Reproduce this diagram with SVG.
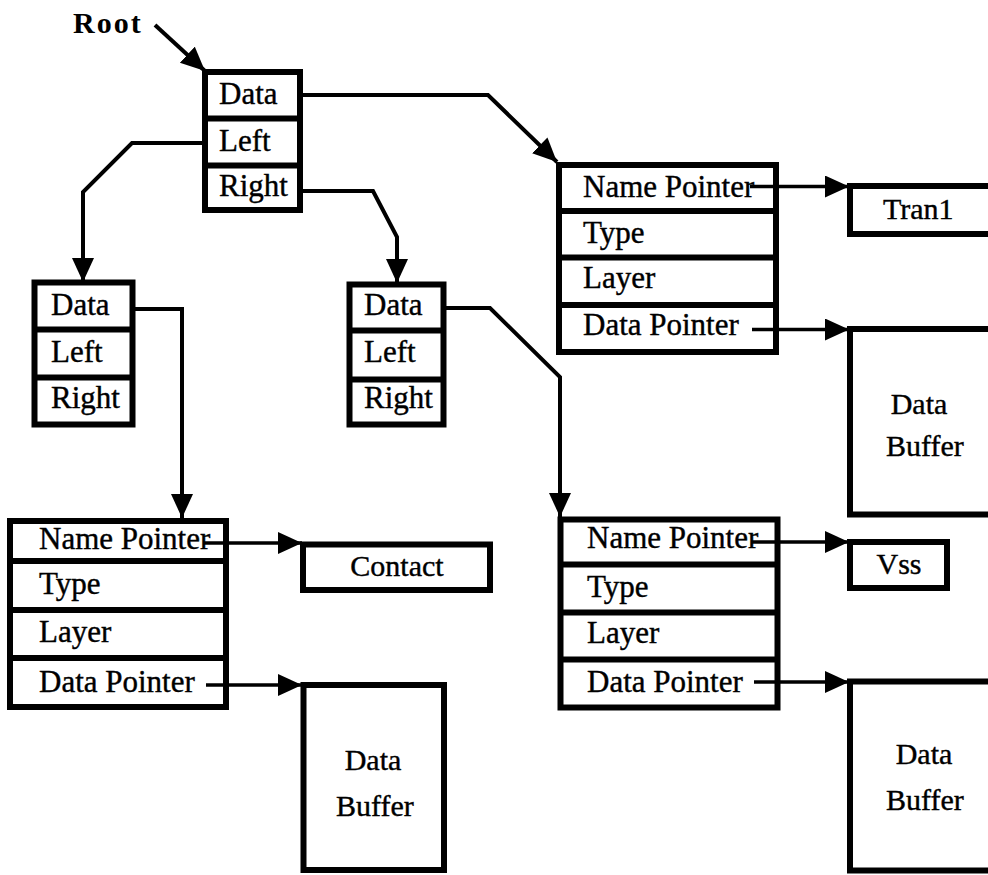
<svg xmlns="http://www.w3.org/2000/svg" width="988" height="875" viewBox="0 0 988 875">
  <style>
    .box { fill: #fff; stroke: #000; stroke-width: 6; }
    .sep { stroke: #000; stroke-width: 6; }
    .t { font-family: "Liberation Serif", "Times New Roman", serif; font-size: 31px; fill: #000; stroke: #000; stroke-width: 0.4; }
    .b { font-size: 30px; }
    .c { text-anchor: middle; }
    .root { font-family: "Liberation Serif", "Times New Roman", serif; font-size: 30px; font-weight: bold; letter-spacing: 2px; fill: #000; }
    .wire { fill: none; stroke: #000; stroke-width: 4; stroke-linejoin: miter; }
    .ptr { fill: none; stroke: #000; stroke-width: 3.5; }
  </style>
  <defs>
    <marker id="head" markerUnits="userSpaceOnUse" markerWidth="26" markerHeight="24" refX="24" refY="11" orient="auto">
      <path d="M0,0 L24,11 L0,22 Z" fill="#000"/>
    </marker>
  </defs>

  <rect width="988" height="875" fill="#fff"/>

  <!-- tree nodes -->
  <g id="root">
    <rect class="box" x="205" y="72" width="95" height="138"/>
    <line class="sep" x1="205" y1="118.5" x2="300" y2="118.5"/>
    <line class="sep" x1="205" y1="165.5" x2="300" y2="165.5"/>
    <text class="t" x="219" y="104">Data</text>
    <text class="t" x="219" y="151">Left</text>
    <text class="t" x="219" y="196">Right</text>
  </g>
  <g id="left-child">
    <rect class="box" x="34.5" y="282.5" width="98" height="142"/>
    <line class="sep" x1="34.5" y1="329.5" x2="132.5" y2="329.5"/>
    <line class="sep" x1="34.5" y1="377.5" x2="132.5" y2="377.5"/>
    <text class="t" x="51" y="315">Data</text>
    <text class="t" x="51" y="362">Left</text>
    <text class="t" x="51" y="408">Right</text>
  </g>
  <g id="right-child">
    <rect class="box" x="349.5" y="284.5" width="94" height="140"/>
    <line class="sep" x1="349.5" y1="330.5" x2="443.5" y2="330.5"/>
    <line class="sep" x1="349.5" y1="379.5" x2="443.5" y2="379.5"/>
    <text class="t" x="364" y="315">Data</text>
    <text class="t" x="364" y="362">Left</text>
    <text class="t" x="364" y="408">Right</text>
  </g>

  <!-- records -->
  <g id="rec-tran1">
    <rect class="box" x="559" y="165" width="217" height="187"/>
    <line class="sep" x1="559" y1="211" x2="776" y2="211"/>
    <line class="sep" x1="559" y1="257.5" x2="776" y2="257.5"/>
    <line class="sep" x1="559" y1="305" x2="776" y2="305"/>
    <text class="t" x="583" y="197">Name Pointer</text>
    <text class="t" x="583" y="243">Type</text>
    <text class="t" x="583" y="288">Layer</text>
    <text class="t" x="583" y="335">Data Pointer</text>
  </g>
  <g id="rec-contact">
    <rect class="box" x="10" y="521" width="216" height="186"/>
    <line class="sep" x1="10" y1="561" x2="226" y2="561"/>
    <line class="sep" x1="10" y1="610" x2="226" y2="610"/>
    <line class="sep" x1="10" y1="658" x2="226" y2="658"/>
    <text class="t" x="39" y="549">Name Pointer</text>
    <text class="t" x="39" y="594">Type</text>
    <text class="t" x="39" y="642">Layer</text>
    <text class="t" x="39" y="692">Data Pointer</text>
  </g>
  <g id="rec-vss">
    <rect class="box" x="560.5" y="519.5" width="217" height="188"/>
    <line class="sep" x1="560.5" y1="564.5" x2="777.5" y2="564.5"/>
    <line class="sep" x1="560.5" y1="612.5" x2="777.5" y2="612.5"/>
    <line class="sep" x1="560.5" y1="659.5" x2="777.5" y2="659.5"/>
    <text class="t" x="587" y="548">Name Pointer</text>
    <text class="t" x="587" y="597">Type</text>
    <text class="t" x="587" y="643">Layer</text>
    <text class="t" x="587" y="692">Data Pointer</text>
  </g>

  <!-- names -->
  <g id="name-tran1">
    <rect class="box" x="850" y="186" width="160" height="48"/>
    <text class="t b" x="883" y="219">Tran1</text>
  </g>
  <g id="name-contact">
    <rect class="box" x="303" y="544.5" width="187" height="45.5"/>
    <text class="t b c" x="397" y="576">Contact</text>
  </g>
  <g id="name-vss">
    <rect class="box" x="850" y="542" width="97" height="46"/>
    <text class="t b c" x="899" y="574">Vss</text>
  </g>

  <!-- data buffers -->
  <g id="buf-tran1">
    <rect class="box" x="850" y="329" width="160" height="185.5"/>
    <text class="t b c" x="919" y="414">Data</text>
    <text class="t b c" x="925" y="456">Buffer</text>
  </g>
  <g id="buf-contact">
    <rect class="box" x="303.5" y="685" width="140.5" height="185"/>
    <text class="t b c" x="373" y="770">Data</text>
    <text class="t b c" x="375" y="816">Buffer</text>
  </g>
  <g id="buf-vss">
    <rect class="box" x="850" y="681.5" width="160" height="189"/>
    <text class="t b c" x="924" y="764">Data</text>
    <text class="t b c" x="925" y="810">Buffer</text>
  </g>

  <!-- root label -->
  <text class="root" x="73" y="33">Root</text>

  <!-- connectors -->
  <g id="connectors">
    <line class="wire" x1="155" y1="25" x2="205" y2="71" stroke-width="5.5" marker-end="url(#head)"/>
    <polyline class="wire" points="303,95 488,95 557,162" marker-end="url(#head)"/>
    <polyline class="wire" points="202,143 132,143 83,192 83,282" marker-end="url(#head)"/>
    <polyline class="wire" points="303,191 373,191 397,237 397,283" marker-end="url(#head)"/>
    <polyline class="wire" points="135,309 182,309 182,518" marker-end="url(#head)"/>
    <polyline class="wire" points="446,308 490,308 560,377 560,517" marker-end="url(#head)"/>

    <line class="ptr" x1="750" y1="186.5" x2="849" y2="186.5" marker-end="url(#head)"/>
    <line class="ptr" x1="752" y1="329.5" x2="849" y2="329.5" marker-end="url(#head)"/>
    <line class="ptr" x1="203" y1="543" x2="302" y2="543" marker-end="url(#head)"/>
    <line class="ptr" x1="206" y1="685" x2="302" y2="685" marker-end="url(#head)"/>
    <line class="ptr" x1="752" y1="542" x2="849" y2="542" marker-end="url(#head)"/>
    <line class="ptr" x1="754" y1="682" x2="849" y2="682" marker-end="url(#head)"/>
  </g>
</svg>
